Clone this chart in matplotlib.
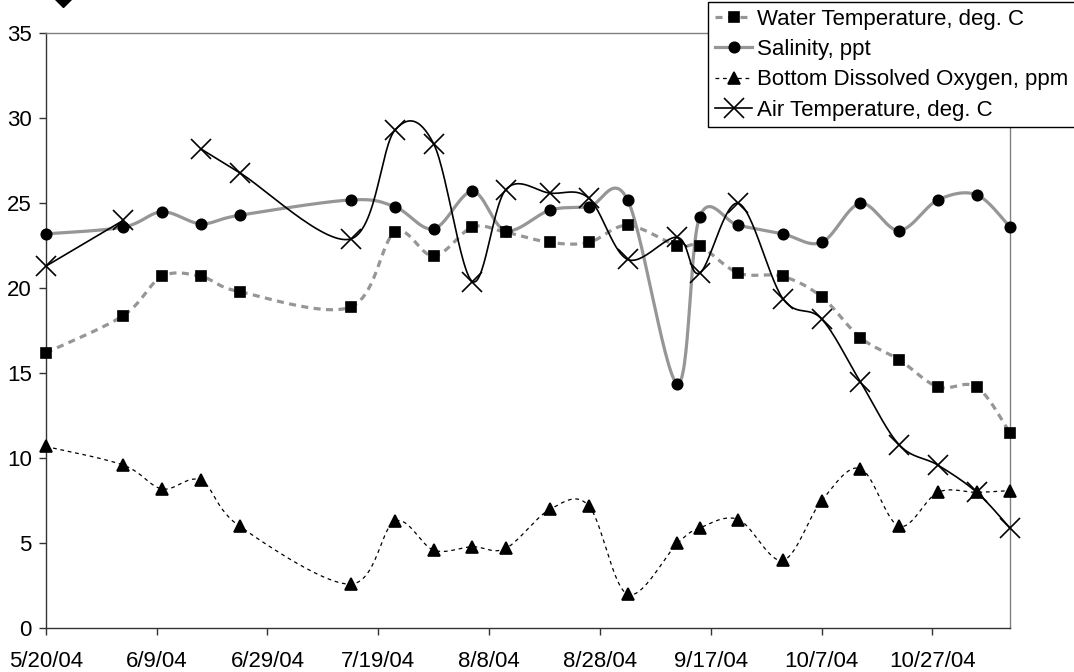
import matplotlib
matplotlib.use("Agg")
import matplotlib.pyplot as plt
import matplotlib.dates as mdates
from matplotlib.lines import Line2D
from matplotlib.ticker import FixedLocator, FuncFormatter
import numpy as np
import pandas as pd

plt.rcParams['font.family'] = ['Liberation Sans', 'DejaVu Sans']

# sampling dates
dates = ["2004-05-20", "2004-06-03", "2004-06-10", "2004-06-17", "2004-06-24",
         "2004-07-14", "2004-07-22", "2004-07-29", "2004-08-05", "2004-08-11",
         "2004-08-19", "2004-08-26", "2004-09-02", "2004-09-11", "2004-09-15",
         "2004-09-22", "2004-09-30", "2004-10-07", "2004-10-14", "2004-10-21",
         "2004-10-28", "2004-11-04", "2004-11-10"]

water_temp = [16.2, 18.4, 20.7, 20.7, 19.8, 18.9, 23.3, 21.9, 23.6, 23.3,
              22.7, 22.7, 23.7, 22.5, 22.5, 20.9, 20.7, 19.5, 17.1, 15.8,
              14.2, 14.2, 11.5]
salinity = [23.2, 23.6, 24.5, 23.8, 24.3, 25.2, 24.8, 23.5, 25.7, 23.4,
            24.6, 24.8, 25.2, 14.4, 24.2, 23.7, 23.2, 22.7, 25.0, 23.4,
            25.2, 25.5, 23.6]
bottom_do = [10.7, 9.6, 8.2, 8.7, 6.0, 2.6, 6.3, 4.6, 4.8, 4.7,
             7.0, 7.2, 2.0, 5.0, 5.9, 6.4, 4.0, 7.5, 9.4, 6.0,
             8.0, 8.0, 8.1]
air_temp = [21.3, 24.0, np.nan, 28.2, 26.8, 22.9, 29.3, 28.5, 20.4, 25.8,
            25.6, 25.3, 21.7, 23.0, 20.9, 25.0, 19.4, 18.2, 14.5, 10.8,
            9.6, 8.0, 5.9]

series_names = ["Water Temperature, deg. C", "Salinity, ppt",
                "Bottom Dissolved Oxygen, ppm", "Air Temperature, deg. C"]

tick_dates = pd.date_range("2004-05-20", periods=9, freq="20D")


def smooth(x, y, n=30):
    # excel style smoothed line (bezier through points), broken at gaps
    x = np.asarray(x, float)
    y = np.asarray(y, float)
    out_x, out_y = [], []
    good = ~np.isnan(y)
    runs = []
    cur = []
    for i in range(len(x)):
        if good[i]:
            cur.append(i)
        elif cur:
            runs.append(cur)
            cur = []
    if cur:
        runs.append(cur)
    for r in runs:
        rx, ry = x[r], y[r]
        m = len(rx)
        sx, sy = [rx[0]], [ry[0]]
        t = np.linspace(0, 1, n)[1:]
        for i in range(m - 1):
            i0 = max(i - 1, 0)
            i3 = min(i + 2, m - 1)
            c1x = rx[i] + (rx[i + 1] - rx[i0]) / 6
            c1y = ry[i] + (ry[i + 1] - ry[i0]) / 6
            c2x = rx[i + 1] - (rx[i3] - rx[i]) / 6
            c2y = ry[i + 1] - (ry[i3] - ry[i]) / 6
            a, b, c, d = (1 - t) ** 3, 3 * (1 - t) ** 2 * t, 3 * (1 - t) * t ** 2, t ** 3
            sx.extend(a * rx[i] + b * c1x + c * c2x + d * rx[i + 1])
            sy.extend(a * ry[i] + b * c1y + c * c2y + d * ry[i + 1])
        out_x.extend(sx + [np.nan])
        out_y.extend(sy + [np.nan])
    return np.array(out_x), np.array(out_y)


xnum = mdates.date2num(pd.to_datetime(dates))

fig = plt.figure(figsize=(10.74, 6.72), dpi=100)
ax = fig.add_axes([0.0426, 0.065, 0.8978, 0.8854])

gray = "#969696"
styles = [
    dict(color=gray, lw=2.3, ls=(0, (2.2, 1.7)), marker='s', ms=7.5),
    dict(color=gray, lw=2.3, ls='-', marker='o', ms=7.5),
    dict(color='black', lw=0.9, ls=(0, (3, 3)), marker='^', ms=8.5),
    dict(color='black', lw=1.2, ls='-', marker='x', ms=15),
]

handles = []
for vals, st, name in zip([water_temp, salinity, bottom_do, air_temp], styles, series_names):
    sx, sy = smooth(xnum, vals)
    ax.plot(sx, sy, color=st['color'], lw=st['lw'], ls=st['ls'], zorder=2)
    ax.plot(xnum, vals, ls='none', marker=st['marker'], ms=st['ms'],
            mfc='black', mec='black', mew=1.2, zorder=3, clip_on=False)
    handles.append(Line2D([], [], color=st['color'], lw=st['lw'], ls=st['ls'],
                          marker=st['marker'], ms=st['ms'], mfc='black',
                          mec='black', mew=1.2))

ax.set_xlim(xnum[0], xnum[-1])
ax.set_ylim(0, 35)
ax.set_yticks(np.arange(0, 36, 5))
ax.xaxis.set_major_locator(FixedLocator(mdates.date2num(tick_dates)))
ax.xaxis.set_major_formatter(FuncFormatter(
    lambda v, p: "{}/{}/{}".format(mdates.num2date(v).month, mdates.num2date(v).day,
                                   mdates.num2date(v).strftime("%y"))))

for s in ['left', 'bottom']:
    ax.spines[s].set_color('#333333')
    ax.spines[s].set_linewidth(1.0)
for s in ['top', 'right']:
    ax.spines[s].set_color('#808080')
    ax.spines[s].set_linewidth(1.0)

ax.tick_params(axis='both', direction='out', length=5, width=1.0, color='#333333',
               labelsize=16, labelcolor='black')
ax.tick_params(axis='x', pad=11)
ax.tick_params(axis='y', pad=5)

leg = fig.legend(handles, series_names, loc='upper left',
                 bbox_to_anchor=(708 / 1074, 1 - 2 / 672), bbox_transform=fig.transFigure,
                 fontsize=16, frameon=True, fancybox=False, framealpha=1,
                 edgecolor='black', handlelength=1.7, handletextpad=0.2,
                 labelspacing=0.42, borderpad=0.3, borderaxespad=0)
leg.get_frame().set_linewidth(1.0)

# stray marker at top left
fig.add_artist(Line2D([63 / 1074], [1 + 2 / 672], marker='D', ms=9, color='black',
                      transform=fig.transFigure))

fig.savefig("out.png", dpi=100)
